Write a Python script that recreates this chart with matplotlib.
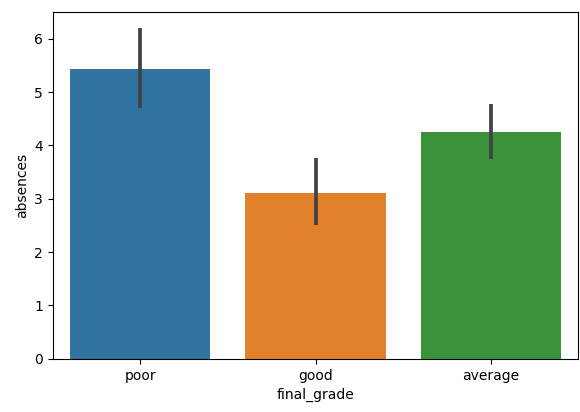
import matplotlib
matplotlib.use('Agg')
import matplotlib.pyplot as plt
import numpy as np

# mean absences per final grade, with confidence interval bounds
grades = ['poor', 'good', 'average']
absences = [5.43, 3.11, 4.25]
ci_low = [4.70, 2.51, 3.75]
ci_high = [6.20, 3.77, 4.78]
colors = ['#3274a1', '#e1812c', '#3a923a']

fig = plt.figure(figsize=(5.8, 4.12), dpi=100)
ax = fig.add_axes([0.091, 0.129, 0.906, 0.842])

x = np.arange(len(grades))
ax.bar(x, absences, width=0.8, color=colors)
ax.vlines(x, ci_low, ci_high, color='#424242', linewidth=2.7)

ax.set_xticks(x)
ax.set_xticklabels(grades)
ax.set_xlim(-0.5, 2.5)
ax.set_ylim(0, 6.5)
ax.set_xlabel('final_grade')
ax.set_ylabel('absences')

fig.savefig('out.png', dpi=100)
